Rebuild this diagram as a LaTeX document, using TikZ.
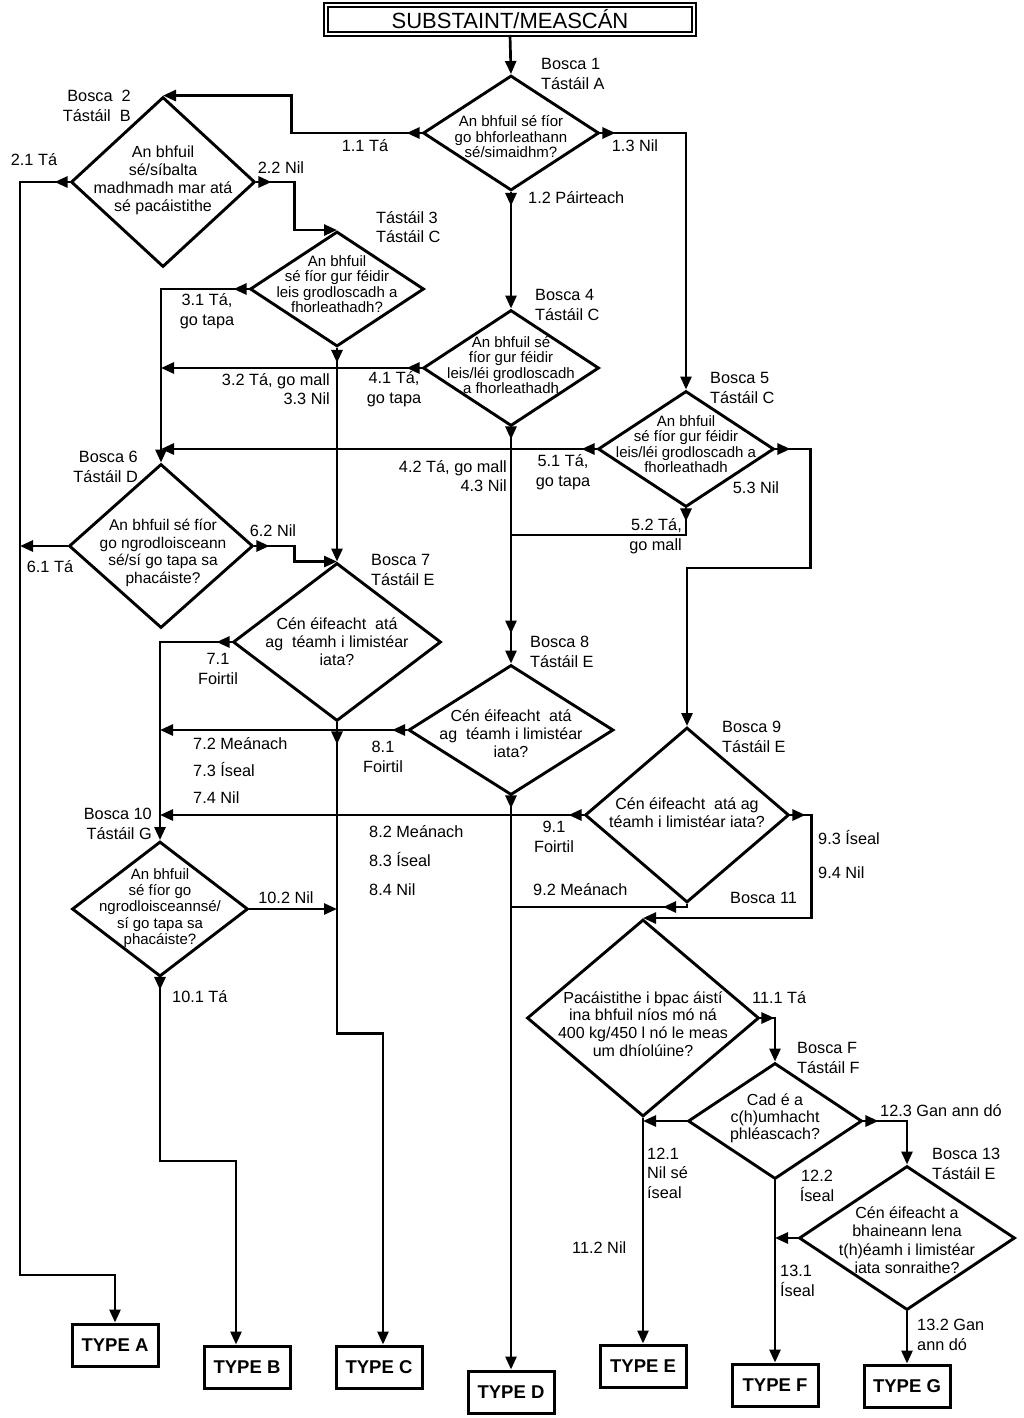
\documentclass[tikz,border=0pt]{standalone}
\usepackage{fontspec}
\setmainfont{Liberation Sans}
\usetikzlibrary{arrows.meta,shapes.geometric,decorations.markings}
\begin{document}
\begin{tikzpicture}[x=1pt,y=-1pt,
  >={Triangle[length=13pt,width=11pt]},
  conn/.style={line width=2.7pt, line join=miter},
  arr/.style={conn,->},
  mk/.style={postaction={decorate,decoration={markings,mark=at position #1 with {\arrow{>}}}}},
  exitarrow/.style={mk=15pt},
  dia/.style={draw, diamond, line width=2.9pt, inner sep=0pt},
  dtxt/.style={align=center, inner sep=0pt, font=\fontsize{15}{15.5}\selectfont},
  btxt/.style={align=center, inner sep=0pt, font=\fontsize{16}{18}\selectfont},
  lbl/.style={inner sep=0pt, font=\fontsize{16.3}{19.5}\selectfont},
  typebox/.style={draw, line width=3pt, minimum width=86pt, minimum height=42pt, inner sep=0pt, font=\bfseries\fontsize{18.5}{20}\selectfont}
]
\fill[white] (0,0) rectangle (1023,1418);
\useasboundingbox (0,0) rectangle (1023,1418);

% title
\node[draw, double, double distance=2.6pt, line width=2pt, minimum width=368pt, minimum height=29pt, inner sep=0pt, font=\fontsize{22}{24}\selectfont] (title) at (510,19.5) {SUBSTAINT/MEASCÁN};

% diamonds
\node[dia, minimum width=176pt, minimum height=115pt] (b1) at (511,133) {};
\node[dia, minimum width=184pt, minimum height=170pt] (b2) at (163,182) {};
\node[dia, minimum width=174pt, minimum height=115pt] (b3) at (337,289) {};
\node[dia, minimum width=176pt, minimum height=116pt] (b4) at (511,368) {};
\node[dia, minimum width=176pt, minimum height=116pt] (b5) at (686,449) {};
\node[dia, minimum width=184pt, minimum height=164pt] (b6) at (161,546) {};
\node[dia, minimum width=208pt, minimum height=158pt] (b7) at (337,642) {};
\node[dia, minimum width=205pt, minimum height=130pt] (b8) at (511,730) {};
\node[dia, minimum width=204pt, minimum height=175pt] (b9) at (687,815) {};
\node[dia, minimum width=176pt, minimum height=135pt] (b10) at (160,909) {};
\node[dia, minimum width=232pt, minimum height=197pt] (b11) at (643,1018) {};
\node[dia, minimum width=174pt, minimum height=116pt] (b12) at (775,1121) {};
\node[dia, minimum width=216pt, minimum height=144pt] (b13) at (907,1238) {};

% diamond texts
\node[dtxt] (b1t) at (511,137) {An bhfuil sé fíor\\go bhforleathann\\sé/simaidhm?};
\node[btxt] (b2t) at (163,180) {An bhfuil\\sé/síbalta\\madhmadh mar atá\\sé pacáistithe};
\node[dtxt] (b3t) at (337,284) {An bhfuil\\sé fíor gur féidir\\leis grodloscadh a\\fhorleathadh?};
\node[dtxt] (b4t) at (511,365) {An bhfuil sé\\fíor gur féidir\\leis/léi grodloscadh\\a fhorleathadh};
\node[dtxt] (b5t) at (686,444) {An bhfuil\\sé fíor gur féidir\\leis/léi grodloscadh a\\fhorleathadh};
\node[dtxt, font=\fontsize{15.5}{17.5}\selectfont] (b6t) at (163,553) {An bhfuil sé fíor\\go ngrodloisceann\\sé/sí go tapa sa\\phacáiste?};
\node[btxt] (b7t) at (337,642) {Cén éifeacht\ \ atá\\ag\ \ téamh i limistéar\\iata?};
\node[btxt] (b8t) at (511,734) {Cén éifeacht\ \ atá\\ag\ \ téamh i limistéar\\iata?};
\node[btxt] (b9t) at (687,813) {Cén éifeacht\ \ atá ag\\téamh i limistéar iata?};
\node[dtxt, font=\fontsize{15}{16.3}\selectfont] (b10t) at (160,908) {An bhfuil\\sé fíor go\\ngrodloisceannsé/\\sí go tapa sa\\phacáiste?};
\node[btxt, font=\fontsize{16}{17.7}\selectfont] (b11t) at (643,1024) {Pacáistithe i bpac áistí\\ina bhfuil níos mó ná\\400 kg/450 l nó le meas\\um dhíolúine?};
\node[btxt, font=\fontsize{16}{17}\selectfont] (b12t) at (775,1118) {Cad é a\\c(h)umhacht\\phléascach?};
\node[btxt, font=\fontsize{16}{18.5}\selectfont] (b13t) at (907,1240) {Cén éifeacht a\\bhaineann lena\\t(h)éamh i limistéar\\iata sonraithe?};

% result boxes
\node[typebox] (ta) at (115,1345) {TYPE A};
\node[typebox] (tb) at (247,1367) {TYPE B};
\node[typebox] (tc) at (379,1367) {TYPE C};
\node[typebox] (td) at (511,1392) {TYPE D};
\node[typebox] (te) at (643,1366) {TYPE E};
\node[typebox] (tf) at (775,1385) {TYPE F};
\node[typebox] (tg) at (907,1386) {TYPE G};

% junction coordinates
\coordinate (lft) at (20,1275);
\coordinate (j52) at (511,535);
\coordinate (j92) at (511,907);

% labels
\node[lbl, anchor=west, align=left] (l1) at (541,74) {Bosca 1\\Tástáil A};
\node[lbl, anchor=east, align=right] (l2) at (131,106) {Bosca\ \ 2\\Tástáil\ \ B};
\node[lbl] (l11) at (365,146) {1.1 Tá};
\node[lbl] (l13) at (635,146) {1.3 Nil};
\node[lbl, anchor=west] (l12) at (528,198) {1.2 Páirteach};
\node[lbl] (l21) at (34,160) {2.1 Tá};
\node[lbl] (l22) at (281,168) {2.2 Nil};
\node[lbl, anchor=west, align=left] (l3) at (376,227) {Tástáil 3\\Tástáil C};
\node[lbl, align=center] (l31) at (207,311) {3.1 Tá,\\go tapa};
\node[lbl, anchor=east, align=right] (l32) at (330,389) {3.2 Tá, go mall\\3.3 Nil};
\node[lbl, anchor=west, align=left] (l4) at (535,305) {Bosca 4\\Tástáil C};
\node[lbl, align=center] (l41) at (394,389) {4.1 Tá,\\go tapa};
\node[lbl, anchor=east, align=right] (l42) at (507,476) {4.2 Tá, go mall\\4.3 Nil};
\node[lbl, anchor=west, align=left] (l5) at (710,388) {Bosca 5\\Tástáil C};
\node[lbl, align=center] (l51) at (563,472) {5.1 Tá,\\go tapa};
\node[lbl, anchor=east, align=right] (l52) at (682,536) {5.2 Tá,\\go mall};
\node[lbl] (l53) at (756,488) {5.3 Nil};
\node[lbl, anchor=east, align=right] (l6) at (138,467) {Bosca 6\\Tástáil D};
\node[lbl] (l61) at (50,567) {6.1 Tá};
\node[lbl] (l62) at (273,531) {6.2 Nil};
\node[lbl, anchor=west, align=left] (l7) at (371,570) {Bosca 7\\Tástáil E};
\node[lbl, align=center] (l71) at (218,669) {7.1\\Foirtil};
\node[lbl, anchor=west, align=left, font=\fontsize{16.3}{27}\selectfont] (l72) at (193,770) {7.2 Meánach\\7.3 Íseal\\7.4 Nil};
\node[lbl, anchor=west, align=left] (l8) at (530,652) {Bosca 8\\Tástáil E};
\node[lbl, align=center] (l81) at (383,757) {8.1\\Foirtil};
\node[lbl, anchor=west, align=left, font=\fontsize{16.3}{29}\selectfont] (l82) at (369,861) {8.2 Meánach\\8.3 Íseal\\8.4 Nil};
\node[lbl, anchor=west, align=left] (l9) at (722,737) {Bosca 9\\Tástáil E};
\node[lbl, align=center] (l91) at (554,837) {9.1\\Foirtil};
\node[lbl, anchor=west] (l92) at (533,890) {9.2 Meánach};
\node[lbl, anchor=west] (l93) at (818,838) {9.3 Íseal};
\node[lbl, anchor=west] (l94) at (818,873) {9.4 Nil};
\node[lbl, anchor=west] (l11b) at (730,898) {Bosca 11};
\node[lbl, anchor=east, align=right] (l10) at (152,824) {Bosca 10\\Tástáil G};
\node[lbl] (l102) at (286,898) {10.2 Nil};
\node[lbl, anchor=west] (l101) at (172,997) {10.1 Tá};
\node[lbl, anchor=west] (l111) at (752,998) {11.1 Tá};
\node[lbl, anchor=west] (l112) at (572,1248) {11.2 Nil};
\node[lbl, anchor=west, align=left] (lf) at (797,1058) {Bosca F\\Tástáil F};
\node[lbl, anchor=west, align=left] (l121) at (647,1173) {12.1\\Nil sé\\íseal};
\node[lbl, align=center] (l122) at (817,1186) {12.2\\Íseal};
\node[lbl, anchor=west] (l123) at (880,1111) {12.3 Gan ann dó};
\node[lbl, anchor=west, align=left] (l13b) at (932,1164) {Bosca 13\\Tástáil E};
\node[lbl, anchor=west, align=left] (l131) at (780,1281) {13.1\\Íseal};
\node[lbl, anchor=west, align=left] (l132) at (917,1335) {13.2 Gan\\ann dó};

% connectors
\draw[arr] (title.south) -- (b1.north);
\draw[arr, exitarrow] (b1.west) -- ++(-130,0) |- (b2.north);
\draw[arr, mk=14pt] (b1.south) -- (b4.north);
\draw[arr, exitarrow] (b1.east) -| (b5.north);
\draw[arr, exitarrow] (b2.west) -- (lft |- b2.west) -- (lft) -| (ta.north);
\draw[arr, exitarrow] (b2.east) -- ++(38,0) |- (b3.north);
\draw[arr, exitarrow] (b3.west) -| (b6.north);
\draw[arr, exitarrow] (b3.south) -- (b7.north);
\draw[arr, exitarrow] (b4.west) -- (b4.west -| b6.north);
\draw[arr, mk=12pt, mk=-30pt] (b4.south) -- (b8.north);
\draw[arr, exitarrow] (b5.west) -- (b5.west -| b6.north);
\draw[conn, mk=13pt] (b5.south) |- (j52);
\draw[arr, exitarrow] (b5.east) -- ++(35,0) -- ++(0,119) -| (b9.north);
\draw[arr] (b6.west) -- (b6.west -| lft);
\draw[arr, exitarrow] (b6.east) -- ++(40,0) |- (b7.north);
\draw[arr, exitarrow] (b7.west) -| (b10.north);
\draw[arr, mk=22pt] (b7.south) -- ++(0,311) -| ([xshift=4pt]tc.north);
\draw[arr, exitarrow] (b8.west) -- (b8.west -| b10.north);
\draw[arr, mk=12pt] (b8.south) -- (td.north);
\draw[arr, exitarrow] (b9.west) -- (b9.west -| b10.north);
\draw[conn, mk=27pt] (b9.south) |- (j92);
\draw[arr, exitarrow] (b9.east) -- ++(21,0) |- (b11.north);
\draw[arr, mk=12pt] (b10.south) -- ++(0,183) -| ([xshift=-11pt]tb.north);
\draw[arr] (b10.east) -- (b10.east -| b7.south);
\draw[arr, mk=14pt] (b11.east) -| (b12.north);
\draw[arr] (b11.south) -- (te.north);
\draw[arr] (b12.west) -- (b12.west -| b11.south);
\draw[arr] (b12.south) -- (tf.north);
\draw[arr, exitarrow] (b12.east) -| (b13.north);
\draw[arr] (b13.west) -- (b13.west -| b12.south);
\draw[arr] (b13.south) -- (tg.north);
\end{tikzpicture}
\end{document}
